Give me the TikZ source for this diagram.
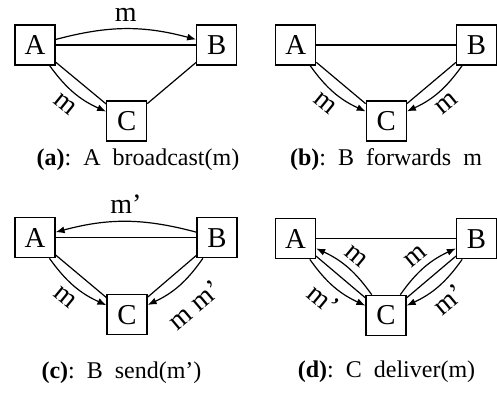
\documentclass[tikz,border=0pt]{standalone}
\usepackage{fontspec}
\setmainfont{Liberation Serif}
\usetikzlibrary{arrows.meta}
\begin{document}
\begin{tikzpicture}[x=0.5pt,y=-0.5pt,
  box/.style={draw, line width=0.6pt, minimum size=20pt, inner sep=0pt, font=\fontsize{14.4}{16}\selectfont},
  link/.style={line width=0.6pt},
  arr/.style={line width=0.6pt, -{Latex[length=4.5pt,width=3.5pt]}},
  lab/.style={font=\fontsize{14}{16}\selectfont, sloped, inner sep=3.5pt},
  captext/.style={font=\fontsize{12}{14}\selectfont, anchor=base, inner sep=0pt}]
\useasboundingbox (0,0) rectangle (497,392);
% panel (a)
\node[box] (a1) at (35,45) {A};
\node[box] (b1) at (216.7,45) {B};
\node[box] (c1) at (126.7,121) {C};
\draw[link] (a1) -- (b1);
\draw[link] (a1) -- (c1);
\draw[link] (b1) -- (c1);
\draw[arr] (a1) to[bend left=15] node[lab, above] {m} (b1);
\draw[arr] (a1) to[bend right=15] node[lab, below] {m} (c1);
\node[captext] (capa) at (138,165) {\textbf{(a)}:\hspace{6pt}A\hspace{6pt}broadcast(m)};
% panel (b)
\node[box] (a2) at (295.7,45) {A};
\node[box] (b2) at (476.5,45) {B};
\node[box] (c2) at (386.3,121) {C};
\draw[link] (a2) -- (b2);
\draw[link] (a2) -- (c2);
\draw[link] (b2) -- (c2);
\draw[arr] (a2) to[bend right=15] node[lab, below] {m} (c2);
\draw[arr] (b2) to[bend left=15] node[lab, below] {m} (c2);
\node[captext] (capb) at (386,165) {\textbf{(b)}:\hspace{6pt}B\hspace{6pt}forwards\hspace{6pt}m};
% panel (c)
\node[box] (a3) at (35,237.7) {A};
\node[box] (b3) at (217,237.7) {B};
\node[box] (c3) at (127,314.8) {C};
\draw[link] (a3) -- (b3);
\draw[link] (a3) -- (c3);
\draw[link] (b3) -- (c3);
\draw[arr] (b3) to[bend right=15] node[lab, above] {m’} (a3);
\draw[arr] (a3) to[bend right=15] node[lab, below] {m} (c3);
\draw[arr] (b3) to[bend left=15] node[lab, below, inner sep=7.5pt] {m m’} (c3);
\node[captext] (capc) at (121.5,378.5) {\textbf{(c)}:\hspace{6pt}B\hspace{6pt}send(m’)};
% panel (d)
\node[box] (a4) at (295.5,238.7) {A};
\node[box] (b4) at (476.5,238.7) {B};
\node[box] (c4) at (386,315.3) {C};
\draw[link] (a4) -- (b4);
\draw[link] (a4) -- (c4);
\draw[link] (b4) -- (c4);
\draw[arr] (a4) to[bend right=15] node[lab, below] {m’} (c4);
\draw[arr] (c4) to[bend right=15] node[lab, above] {m} (a4);
\draw[arr] (c4) to[bend left=15] node[lab, above] {m} (b4);
\draw[arr] (b4) to[bend left=15] node[lab, below] {m’} (c4);
\node[captext] (capd) at (386.5,377.7) {\textbf{(d)}:\hspace{6pt}C\hspace{6pt}deliver(m)};
\end{tikzpicture}
\end{document}
